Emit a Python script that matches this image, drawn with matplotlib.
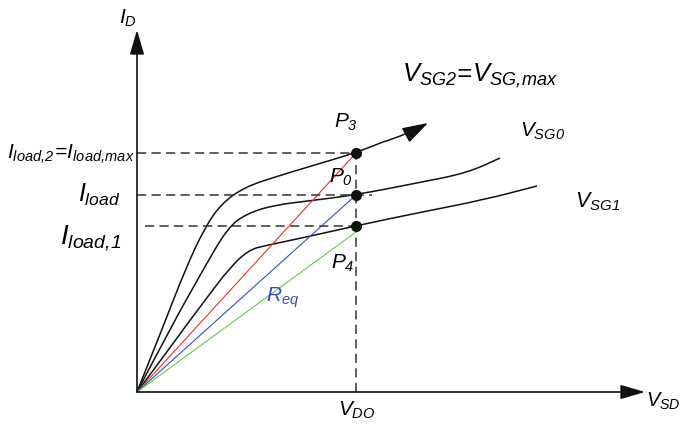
import numpy as np
import matplotlib.pyplot as plt
from matplotlib.path import Path
from matplotlib.patches import PathPatch

plt.rcParams['mathtext.fontset'] = 'custom'
plt.rcParams['mathtext.it'] = 'Liberation Sans:italic'
plt.rcParams['mathtext.rm'] = 'Liberation Sans:italic'
plt.rcParams['mathtext.default'] = 'it'
plt.rcParams['font.family'] = 'Liberation Sans'

# characteristic curves, V_SD (x) vs I_D (y), diagram units
vsg2_x = [0, 26, 48, 68, 85, 108, 138, 171, 218, 246]
vsg2_y = [0, 65, 122, 165, 189, 205, 215, 225, 239, 250]
vsg2_tip = (291, 269)

vsg0_x = [0, 34, 66, 91, 111, 138, 171, 218, 280, 330, 363]
vsg0_y = [0, 65, 122, 165, 179, 187, 191, 197, 209, 219, 234]

vsg1_x = [0, 24, 48, 72, 91, 111, 131, 165, 218, 280, 346, 400]
vsg1_y = [0, 32, 65, 97, 122, 142, 147, 154, 166, 179, 192, 206]

# operating points at V_DO
v_do = 219
i_load2 = 239
i_load = 197
i_load1 = 166
green_end = 160

BLACK = '#111111'
RED = '#e8312a'
BLUE = '#3551b5'
GREEN = '#66c94a'


def smooth_path(xs, ys):
    # quadratic Bezier through midpoints, read points act as control points
    pts = list(zip(xs, ys))
    verts = [pts[0]]
    codes = [Path.MOVETO]
    for i in range(1, len(pts) - 1):
        mid = ((pts[i][0] + pts[i + 1][0]) / 2, (pts[i][1] + pts[i + 1][1]) / 2)
        verts += [pts[i], mid]
        codes += [Path.CURVE3, Path.CURVE3]
    verts.append(pts[-1])
    codes.append(Path.LINETO)
    return Path(verts, codes)


fig = plt.figure(figsize=(6.82, 4.29), dpi=100)
ax = fig.add_axes([0, 0, 1, 1])
ax.set_xlim(-137, 545)
ax.set_ylim(-37, 392)
ax.axis('off')

# axes arrows
arrow_kw = dict(arrowstyle='-|>,head_length=0.75,head_width=0.22', color=BLACK,
                lw=1.2, mutation_scale=20, shrinkA=0, shrinkB=0)
ax.annotate('', xy=(0, 362), xytext=(0, 0), arrowprops=arrow_kw)
ax.annotate('', xy=(508, 0), xytext=(0, 0), arrowprops=arrow_kw)

# load lines
ax.plot([0, v_do], [0, i_load2], color=RED, lw=0.8)
ax.plot([0, v_do], [0, i_load], color=BLUE, lw=0.8)
ax.plot([0, v_do], [0, green_end], color=GREEN, lw=0.8)

# curves
for xs, ys in [(vsg2_x, vsg2_y), (vsg0_x, vsg0_y), (vsg1_x, vsg1_y)]:
    ax.add_patch(PathPatch(smooth_path(xs, ys), fill=False, edgecolor=BLACK, lw=1.1))
ax.annotate('', xy=vsg2_tip, xytext=(vsg2_x[-1], vsg2_y[-1]),
            arrowprops=dict(arrowstyle='-|>,head_length=0.8,head_width=0.25',
                            color=BLACK, lw=1.1, mutation_scale=20,
                            shrinkA=0, shrinkB=0,
                            connectionstyle='arc3,rad=0.05'))

# dashed guides
dash = dict(color='#333333', lw=1.1, ls=(0, (6, 3.5)))
ax.plot([0, v_do], [i_load2, i_load2], **dash)
ax.plot([0, 235], [i_load, i_load], **dash)
ax.plot([8, v_do], [i_load1, i_load1], **dash)
ax.plot([v_do, v_do], [0, i_load2], **dash)

ax.plot([v_do] * 3, [i_load2, i_load, i_load1], 'o', color=BLACK, ms=7)

# labels
ax.text(-9, 374, r'$I_D$', fontsize=15, ha='center', va='center')
ax.text(509, -9, r'$V_{SD}$', fontsize=14.5, ha='left', va='center')
ax.text(220, -18, r'$V_{DO}$', fontsize=15, ha='center', va='center')
ax.text(265, 316, r'$V_{SG2}\!=\!V_{SG,\!max}$', fontsize=18.5, ha='left', va='center')
ax.text(209, 270, r'$P_3$', fontsize=15, ha='center', va='center')
ax.text(204, 215, r'$P_0$', fontsize=15, ha='center', va='center')
ax.text(206, 129, r'$P_4$', fontsize=15, ha='center', va='center')
ax.text(383, 261, r'$V_{SG0}$', fontsize=15, ha='left', va='center')
ax.text(438, 190, r'$V_{SG1}$', fontsize=15.5, ha='left', va='center')
ax.text(146, 94, r'$R_{eq}$', fontsize=15, ha='center', va='center', color=BLUE)
ax.text(-2, 238, r'$I_{load,\!2}\!=\!I_{load,\!max}$', fontsize=15, ha='right', va='center')
ax.text(-17, 197, r'$I_{load}$', fontsize=18, ha='right', va='center')
ax.text(-15, 154, r'$I_{load,\!1}$', fontsize=20, ha='right', va='center')

fig.savefig('out.png', dpi=100)
